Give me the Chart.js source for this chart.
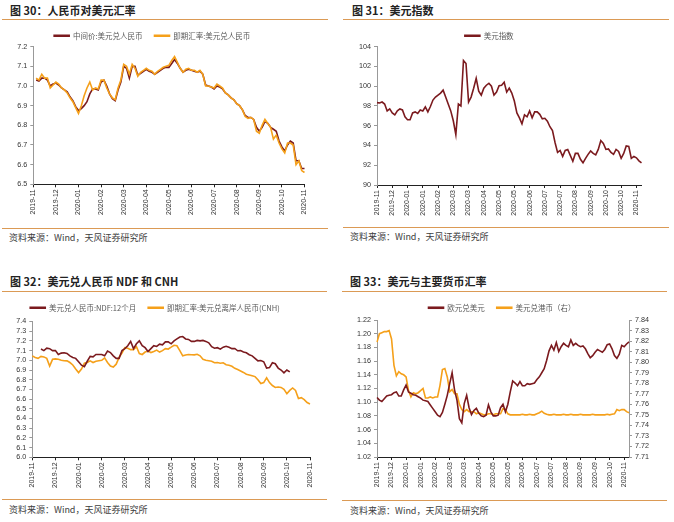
<!DOCTYPE html>
<html>
<head>
<meta charset="UTF-8">
<title>美元与人民币汇率</title>
<style>
  body { margin: 0; background: #fff; font-family: "Noto Sans CJK SC", sans-serif; }
  #page { position: relative; width: 674px; height: 522px; overflow: hidden; background: #fff; }
  .title { position: absolute; font-size: 11px; font-weight: bold; color: #222; line-height: 12px; white-space: nowrap; }
  .rule { position: absolute; height: 1px; background: #db9a55; }
  .src { position: absolute; font-size: 9px; color: #404040; line-height: 10px; white-space: nowrap; }
  canvas { position: absolute; }
</style>
<script src="https://cdn.jsdelivr.net/npm/chart.js"></script>
</head>
<body>
<div id="page">
  <div class="title" style="left:10px;top:4px">图 30：人民币对美元汇率</div>
  <div class="rule" style="left:2px;top:19px;width:326px"></div>
  <canvas id="c1" width="337" height="206" style="left:0;top:20px"></canvas>
  <div class="rule" style="left:2px;top:228px;width:326px"></div>
  <div class="src" style="left:9px;top:233px">资料来源：Wind，天风证券研究所</div>

  <div class="title" style="left:352px;top:4px">图 31：美元指数</div>
  <div class="rule" style="left:343px;top:19px;width:326px"></div>
  <canvas id="c2" width="337" height="206" style="left:337px;top:20px"></canvas>
  <div class="rule" style="left:343px;top:227px;width:326px"></div>
  <div class="src" style="left:350px;top:232px">资料来源：Wind，天风证券研究所</div>

  <div class="title" style="left:10px;top:275px">图 32：美元兑人民币 NDF 和 CNH</div>
  <div class="rule" style="left:2px;top:291px;width:325px"></div>
  <canvas id="c3" width="337" height="206" style="left:0;top:292px"></canvas>
  <div class="rule" style="left:2px;top:499px;width:325px"></div>
  <div class="src" style="left:9px;top:505px">资料来源：Wind，天风证券研究所</div>

  <div class="title" style="left:350px;top:275px">图 33：美元与主要货币汇率</div>
  <div class="rule" style="left:342px;top:291px;width:325px"></div>
  <canvas id="c4" width="337" height="206" style="left:337px;top:292px"></canvas>
  <div class="rule" style="left:342px;top:500px;width:325px"></div>
  <div class="src" style="left:350px;top:506px">资料来源：Wind，天风证券研究所</div>
</div>

<script>
// tick labels under each x axis
const monthTicks = ["2019-11","2019-12","2020-01","2020-02","2020-03","2020-04","2020-05","2020-06","2020-07","2020-08","2020-09","2020-10","2020-11"];
const dxyTicks = ["2019-11","2019-12","2020-01","2020-01","2020-02","2020-03","2020-03","2020-04","2020-05","2020-05","2020-06","2020-07","2020-07","2020-08","2020-09","2020-10","2020-10","2020-11"];
const fxTicks = ["2019-11","2019-12","2020-01","2020-01","2020-02","2020-03","2020-03","2020-04","2020-05","2020-05","2020-06","2020-07","2020-07","2020-08","2020-09","2020-09","2020-10","2020-11"];

// fig 30: 8 points per month
const cnyMid = [null, 7.03, 7.025, 7.04, 7.04, 7.03, 7.00, 7.01, 7.015, 7.005,
  6.99, 6.98, 6.97, 6.945, 6.925, 6.895, 6.875, 6.885, 6.90, 6.92,
  6.96, 6.985, 6.985, 6.98, 7.02, 7.03, 7.00, 6.96, 6.935, 6.925,
  6.98, 7.02, 7.10, 7.09, 7.04, 7.10, 7.10, 7.055, 7.065, 7.075,
  7.085, 7.075, 7.07, 7.06, 7.07, 7.08, 7.09, 7.095, 7.095, 7.115,
  7.135, 7.115, 7.09, 7.07, 7.08, 7.085, 7.08, 7.075, 7.07, 7.075,
  7.06, 7.005, 7.00, 6.995, 6.985, 7.00, 6.995, 6.985, 6.965, 6.955,
  6.94, 6.93, 6.91, 6.90, 6.88, 6.85, 6.84, 6.84, 6.83, 6.79,
  6.77, 6.79, 6.82, 6.81, 6.79, 6.78, 6.77, 6.72, 6.69, 6.67,
  6.70, 6.72, 6.71, 6.62, 6.62, 6.58, 6.58];
const cnySpot = [null, 7.04, 7.03, 7.06, 7.04, 7.04, 6.99, 7.005, 7.02, 7.01,
  6.99, 6.98, 6.965, 6.94, 6.92, 6.89, 6.86, 6.90, 6.95, 6.99,
  7.02, 6.98, 6.99, 6.985, 7.03, 7.03, 6.99, 6.96, 6.94, 6.93,
  6.99, 7.03, 7.11, 7.10, 7.06, 7.11, 7.09, 7.05, 7.07, 7.08,
  7.09, 7.08, 7.075, 7.06, 7.075, 7.085, 7.095, 7.10, 7.105, 7.13,
  7.15, 7.12, 7.09, 7.07, 7.085, 7.09, 7.08, 7.08, 7.07, 7.08,
  7.06, 7.00, 7.00, 6.995, 6.99, 7.01, 7.00, 6.99, 6.965, 6.955,
  6.94, 6.93, 6.91, 6.90, 6.88, 6.845, 6.835, 6.84, 6.83, 6.77,
  6.76, 6.80, 6.83, 6.81, 6.79, 6.73, 6.75, 6.71, 6.68, 6.66,
  6.71, 6.71, 6.70, 6.60, 6.62, 6.57, 6.56];

// fig 31: 6 points per tick interval
const dxy = [98.34, 98.3, 98.4, 98.2, 97.5, 97.7, 97.3, 97.1, 97.5, 97.7,
  97.6, 96.9, 96.6, 96.6, 97.3, 97.4, 97.25, 97.6, 97.5, 97.9,
  97.4, 97.95, 98.6, 98.9, 99.1, 99.3, 99.6, 98.9, 98.2, 97.5,
  96.5, 95.1, 98.2, 98.0, 102.6, 102.3, 98.4, 98.9, 99.8, 100.8,
  99.5, 99.1, 99.8, 100.1, 100.3, 100.0, 99.1, 99.4, 100.05, 100.1,
  100.4, 99.4, 99.8, 99.3, 98.5, 97.3, 96.8, 96.2, 97.1, 96.9,
  97.5, 96.8, 97.4, 97.4, 97.15, 96.7, 96.75, 96.45, 95.9, 95.5,
  94.3, 93.3, 93.5, 92.9, 93.5, 93.6, 93.0, 92.4, 93.2, 93.2,
  92.6, 92.25, 92.7, 93.1, 93.45, 93.2, 93.05, 93.6, 94.5, 94.2,
  93.6, 93.65, 93.3, 93.1, 93.6, 93.4, 92.7, 93.2, 93.95, 93.9,
  92.7, 92.9, 92.75, 92.45, 92.25];

// fig 32: 8 points per month
const ndf12m = [null, null, null, 7.116, 7.10, 7.125, 7.12, 7.10, 7.10, 7.06,
  7.074, 7.078, 7.07, 7.045, 7.03, 7.02, 6.985, 6.95, 6.935, 6.99,
  7.04, 7.036, 7.06, 7.06, 7.06, 7.046, 7.095, 7.08, 7.046, 7.02,
  7.02, 7.10, 7.12, 7.15, 7.195, 7.12, 7.17, 7.20, 7.15, 7.13,
  7.09, 7.12, 7.15, 7.143, 7.166, 7.16, 7.19, 7.19, 7.17, 7.20,
  7.22, 7.24, 7.245, 7.22, 7.215, 7.195, 7.195, 7.205, 7.20, 7.205,
  7.195, 7.18, 7.14, 7.125, 7.13, 7.115, 7.135, 7.145, 7.135, 7.12,
  7.122, 7.098, 7.10, 7.085, 7.078, 7.058, 7.046, 7.02, 6.994, 6.998,
  6.985, 6.92, 6.925, 6.975, 6.965, 6.92, 6.90, 6.87, 6.90, 6.88,
  null, null, null, null, null, null, null];
const cnh = [7.046, 7.029, 7.02, 7.04, 7.035, 7.02, 6.94, 7.01, 7.015, 7.01,
  7.00, 6.995, 6.994, 6.977, 6.952, 6.91, 6.873, 6.91, 6.97, 6.977,
  6.994, 6.977, 6.99, 6.995, 7.00, 7.025, 6.977, 6.94, 6.93, 6.96,
  7.03, 7.075, 7.13, 7.125, 7.11, 7.11, 7.14, 7.07, 7.06, 7.085,
  7.095, 7.08, 7.09, 7.105, 7.085, 7.10, 7.12, 7.116, 7.135, 7.155,
  7.15, 7.10, 7.046, 7.055, 7.06, 7.058, 7.056, 7.062, 7.046, 7.01,
  7.00, 6.995, 6.99, 6.975, 6.977, 6.97, 6.975, 6.955, 6.95, 6.938,
  6.917, 6.905, 6.89, 6.875, 6.856, 6.848, 6.84, 6.832, 6.80, 6.76,
  6.77, 6.82, 6.77, 6.74, 6.72, 6.725, 6.72, 6.70, 6.655, 6.69,
  6.715, 6.69, 6.605, 6.615, 6.595, 6.565, 6.55];

// fig 33: 6 points per tick interval
const eurusd = [1.107, 1.103, 1.101, 1.105, 1.109, 1.110, 1.111, 1.114, 1.115, 1.109,
  1.109, 1.118, 1.125, 1.115, 1.113, 1.111, 1.110, 1.108, 1.106, 1.103,
  1.102, 1.101, 1.096, 1.091, 1.086, 1.081, 1.079, 1.085, 1.097, 1.110,
  1.127, 1.143, 1.118, 1.103, 1.076, 1.070, 1.098, 1.110, 1.092, 1.082,
  1.088, 1.091, 1.084, 1.080, 1.079, 1.081, 1.096, 1.086, 1.080, 1.080,
  1.081, 1.092, 1.097, 1.086, 1.097, 1.115, 1.131, 1.128, 1.124, 1.130,
  1.124, 1.124, 1.127, 1.126, 1.127, 1.128, 1.133, 1.137, 1.143, 1.149,
  1.161, 1.175, 1.183, 1.176, 1.187, 1.174, 1.181, 1.186, 1.183, 1.181,
  1.191, 1.183, 1.186, 1.183, 1.181, 1.182, 1.178, 1.171, 1.165, 1.168,
  1.173, 1.177, 1.175, 1.173, 1.177, 1.184, 1.185, 1.178, 1.168, 1.164,
  1.170, 1.183, 1.181, 1.185, 1.188];
const usdhkd = [7.819, 7.827, 7.828, 7.829, 7.829, 7.830, 7.822, 7.797, 7.787, 7.791,
  7.789, 7.788, 7.786, 7.773, 7.767, 7.771, 7.770, 7.771, 7.773, 7.775,
  7.766, 7.766, 7.767, 7.766, 7.767, 7.767, 7.778, 7.793, 7.794, 7.786,
  7.772, 7.774, 7.770, 7.770, 7.760, 7.755, 7.753, 7.755, 7.753, 7.753,
  7.753, 7.751, 7.752, 7.751, 7.750, 7.750, 7.751, 7.751, 7.750, 7.751,
  7.751, 7.751, 7.756, 7.755, 7.751, 7.750, 7.750, 7.750, 7.750, 7.750,
  7.7505, 7.750, 7.750, 7.7505, 7.750, 7.750, 7.751, 7.752, 7.7535, 7.7515,
  7.7505, 7.750, 7.750, 7.7505, 7.750, 7.750, 7.750, 7.7505, 7.750, 7.750,
  7.7505, 7.750, 7.750, 7.750, 7.7505, 7.750, 7.750, 7.750, 7.750, 7.7505,
  7.750, 7.750, 7.750, 7.750, 7.750, 7.7505, 7.750, 7.7505, 7.751, 7.755,
  7.754, 7.755, 7.755, 7.753, 7.752];

const RED = "#7b1a1e";
const ORANGE = "#f5a01a";

Chart.defaults.font.family = "'Liberation Sans', Arial, sans-serif";
Chart.defaults.font.size = 7.2;
Chart.defaults.color = "#333";

function makeLabels(ticks, step, count) {
  const out = [];
  for (let i = 0; i < count; i++) {
    out.push(i % step === 0 && ticks[i / step] ? ticks[i / step] : "");
  }
  return out;
}

function line(label, data, color, order) {
  return { label: label, data: data, borderColor: color, backgroundColor: color,
    borderWidth: 1.6, pointRadius: 0, tension: 0, fill: false, order: order };
}

function xAxis(h) {
  return {
    border: { color: "#222", width: 1 },
    grid: { drawOnChartArea: false, tickLength: 3, color: "#222" },
    ticks: { autoSkip: false, minRotation: 90, maxRotation: 90, padding: 2, font: { size: 7 },
      callback: function (v) { return this.getLabelForValue(v) || null; } },
    afterFit: function (s) { s.height = h; }
  };
}

function yAxis(w, min, max, step, dec, pos) {
  return {
    position: pos || "left",
    min: min, max: max,
    border: { color: "#999", width: 1 },
    grid: { drawOnChartArea: false, tickLength: 3, color: "#999" },
    ticks: { stepSize: step, autoSkip: false, padding: 3, callback: v => v.toFixed(dec) },
    afterFit: function (s) { s.width = w; }
  };
}

function legend(maxH) {
  return {
    position: "top", maxHeight: maxH,
    labels: { boxWidth: 15, boxHeight: 1, padding: 12, color: "#595959",
      font: { family: "'Noto Sans CJK SC', sans-serif", size: 7.5 },
      sort: (a, b) => a.datasetIndex - b.datasetIndex }
  };
}

new Chart(document.getElementById("c1"), {
  type: "line",
  data: {
    labels: makeLabels(monthTicks, 8, cnyMid.length),
    datasets: [line("中间价:美元兑人民币", cnyMid, RED, 2), line("即期汇率:美元兑人民币", cnySpot, ORANGE, 1)]
  },
  options: {
    responsive: false, animation: false,
    layout: { padding: { left: 0, right: 32.5, top: 0, bottom: 0 } },
    plugins: { legend: legend(26.7), tooltip: { enabled: false } },
    scales: { x: xAxis(41.7), y: yAxis(33.3, 6.5, 7.2, 0.1, 1) }
  }
});

new Chart(document.getElementById("c2"), {
  type: "line",
  data: {
    labels: makeLabels(dxyTicks, 6, dxy.length),
    datasets: [line("美元指数", dxy, RED, 1)]
  },
  options: {
    responsive: false, animation: false,
    layout: { padding: { left: 0, right: 32.5, top: 0, bottom: 0 } },
    plugins: { legend: legend(26.7), tooltip: { enabled: false } },
    scales: { x: xAxis(41), y: yAxis(40, 90, 104, 2, 0) }
  }
});

new Chart(document.getElementById("c3"), {
  type: "line",
  data: {
    labels: makeLabels(monthTicks, 8, cnh.length),
    datasets: [line("美元兑人民币:NDF:12个月", ndf12m, RED, 1), line("即期汇率:美元兑离岸人民币(CNH)", cnh, ORANGE, 2)]
  },
  options: {
    responsive: false, animation: false,
    layout: { padding: { left: 0, right: 27, top: 0, bottom: 0 } },
    plugins: { legend: legend(30.7), tooltip: { enabled: false } },
    scales: { x: xAxis(40.7), y: yAxis(32.3, 6.0, 7.4, 0.1, 1) }
  }
});

new Chart(document.getElementById("c4"), {
  type: "line",
  data: {
    labels: makeLabels(fxTicks, 6, eurusd.length),
    datasets: [
      Object.assign(line("欧元兑美元", eurusd, RED, 1), { yAxisID: "y" }),
      Object.assign(line("美元兑港币（右）", usdhkd, ORANGE, 2), { yAxisID: "y1" })
    ]
  },
  options: {
    responsive: false, animation: false,
    layout: { padding: { left: 0, right: 7, top: 0, bottom: 0 } },
    plugins: { legend: legend(28), tooltip: { enabled: false } },
    scales: {
      x: xAxis(41),
      y: yAxis(40, 1.02, 1.22, 0.02, 2),
      y1: yAxis(38, 7.71, 7.84, 0.01, 2, "right")
    }
  }
});
</script>
</body>
</html>
